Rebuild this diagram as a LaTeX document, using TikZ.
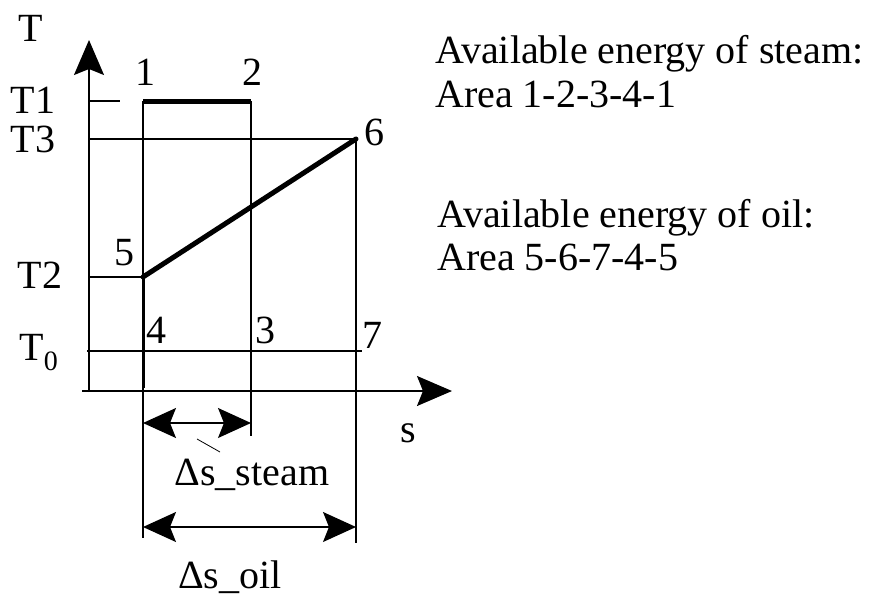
\documentclass[tikz,border=0pt]{standalone}
\usepackage{fontspec}
\setmainfont{Liberation Serif}
\usepackage{tikz}
\usetikzlibrary{arrows.meta, calc}

\begin{document}
\begin{tikzpicture}[x=1pt, y=-1pt,
    every node/.style={font=\fontsize{40}{46}\selectfont, inner sep=0pt},
    guide/.style={line width=1.3pt},
    process/.style={line width=5pt},
    dimarrow/.style={line width=1.3pt, {Stealth[length=33pt,width=30pt,inset=6pt]}-{Stealth[length=33pt,width=30pt,inset=6pt]}},
    axis/.style={line width=1.6pt, -{Stealth[length=35pt,width=30pt,inset=6pt]}}]
  \useasboundingbox (0,0) rectangle (879,597);

  % state points
  \coordinate (p1) at (143,101);
  \coordinate (p2) at (251,101);
  \coordinate (p3) at (251,351);
  \coordinate (p4) at (143,351);
  \coordinate (p5) at (143,277);
  \coordinate (p6) at (356,139);
  \coordinate (p7) at (356,351);

  % axes
  \coordinate (yb) at (89,392);
  \coordinate (yt) at (89,40);
  \coordinate (xl) at (82,391);
  \coordinate (xr) at (452,391);
  \draw[axis] (yb) -- (yt);
  \draw[axis] (xl) -- (xr);

  % temperature levels
  \coordinate (t1) at (89,101);
  \coordinate (t1e) at (120,101);
  \coordinate (t3) at (89,139);
  \coordinate (t2) at (89,277);
  \coordinate (t0a) at (87,351);
  \coordinate (t0b) at (362,351);
  \draw[guide] (t1) -- (t1e);
  \draw[guide] (t3) -- (p6);
  \draw[guide] (t2) -- (p5);
  \draw[guide] (t0a) -- (t0b);

  % verticals
  \coordinate (b4) at (143,538);
  \coordinate (b3) at (251,436);
  \coordinate (b7) at (356,543);
  \coordinate (e5) at (143,388);
  \draw[guide] (p1) -- (b4);
  \draw[guide] (p2) -- (b3);
  \draw[guide] (p6) -- (b7);

  % processes
  \draw[process] (p1) -- (p2);
  \draw[process, line cap=round] (p5) -- (p6);
  \draw[line width=3pt] (p5) -- (e5);

  % entropy changes
  \coordinate (sa) at (143,423);
  \coordinate (sb) at (251,423);
  \coordinate (oa) at (143,527);
  \coordinate (ob) at (356,527);
  \draw[dimarrow] (sa) -- (sb);
  \draw[dimarrow] (oa) -- (ob);
  \coordinate (m1) at (197,439);
  \coordinate (m2) at (220,452);
  \draw[line width=0.8pt] (m1) -- (m2);

  % labels
  \node (lT) at (31,28) {T};
  \node (lT1) at (33,100) {T1};
  \node (lT3) at (33,139) {T3};
  \node (lT2) at (40,275) {T2};
  \node (lT0) at (39,353) {T\textsubscript{0}};
  \node (n1) at (145,72) {1};
  \node (n2) at (252,72) {2};
  \node (n6) at (374,132) {6};
  \node (n5) at (124,253) {5};
  \node (n4) at (156,330) {4};
  \node (n3) at (265,330) {3};
  \node (n7) at (372,335) {7};
  \node[anchor=base] (ls) at (408,442) {s};
  \node[anchor=base] (lsteam) at (252,485) {Δs\_steam};
  \node[anchor=base] (loil) at (230,588) {Δs\_oil};

  % notes
  \node[anchor=base west] (a1) at (435,63) {Available energy of steam:};
  \node[anchor=base west] (a2) at (435,107) {Area 1-2-3-4-1};
  \node[anchor=base west] (a3) at (437,227) {Available energy of oil:};
  \node[anchor=base west] (a4) at (437,270) {Area 5-6-7-4-5};
\end{tikzpicture}
\end{document}
